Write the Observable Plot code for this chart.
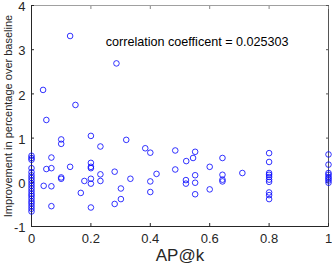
<!DOCTYPE html>
<html><head><meta charset="utf-8">
<script src="https://cdn.jsdelivr.net/npm/d3@7"></script>
<script src="https://cdn.jsdelivr.net/npm/@observablehq/plot@0.6"></script>
<style>body{margin:0;background:#fff} svg{display:block}</style>
</head><body><div id="chart"></div>
<script>
const apk = [
  0,0,0,0,0,0,0,0,0,0,0,0,0,0,0,0,0,0,0,0,
  0.039,0.130,0.148,0.050,0.286,0.10,0.10,0.20,0.232,0.067,
  0.050,0.067,0.130,0.10,0.10,0.20,0.20,0.20,0.232,0.28,
  0.178,0.20,0.20,0.232,0.041,0.067,0.166,0.067,0.20,0.28,
  0.319,0.383,0.40,0.484,0.551,0.521,0.544,0.643,0.60,0.484,
  0.421,0.333,0.40,0.52,0.52,0.551,0.551,0.551,0.643,0.643,
  0.643,0.301,0.301,0.40,0.60,0.71,
  0.8,0.8,0.8,0.8,0.8,0.8,0.8,0.8,0.8,0.8,
  1,1,1,1,1,1,1,1
];
const improvement = [
  0.60,0.55,0.51,0.32,0.23,0.16,0.10,0.04,-0.02,-0.08,-0.14,-0.20,-0.26,-0.31,-0.37,-0.43,-0.48,-0.54,-0.60,-0.66,
  2.09,3.31,1.75,1.41,2.69,0.97,0.87,1.05,0.81,0.56,
  0.30,0.32,0.35,0.11,0.08,0.44,0.35,0.32,0.18,0.24,
  0.03,0.08,-0.03,0.03,-0.08,-0.09,-0.24,-0.54,-0.57,-0.49,
  0.96,0.77,0.67,0.72,0.69,0.48,0.55,0.55,0.35,0.29,
  0.19,0.08,0.02,0.05,-0.03,0.16,-0.01,-0.27,0.17,0.06,
  0.02,-0.14,-0.38,-0.22,-0.16,0.21,
  0.66,0.46,0.21,0.17,0.12,0.06,0.01,-0.23,-0.29,-0.38,
  0.63,0.40,0.21,0.17,0.12,0.08,0.04,-0.01
];
const xTicks = [0, 0.2, 0.4, 0.6, 0.8, 1];
const xTickLabels = ["0", "0.2", "0.4", "0.6", "0.8", "1"];
const yTicks = [-1, 0, 1, 2, 3, 4];
const yTickLabels = ["-1", "0", "1", "2", "3", "4"];
const annotation = "correlation coefficent = 0.025303";
const annotationPos = {x: 0.25, y: 3.17};
const xLabel = "AP@k";
const yLabel = "Improvement in percentage over baseline";

const points = apk.map((x, i) => ({x, y: improvement[i]}));
const axisColor = "#262626";

const chart = Plot.plot({
  width: 332,
  height: 271,
  marginLeft: 31,
  marginRight: 4,
  marginTop: 5,
  marginBottom: 45,
  x: {domain: [0, 1]},
  y: {domain: [-1, 4]},
  style: {fontFamily: "'Liberation Sans', Arial, sans-serif", fontSize: "13px", color: axisColor, background: "#fff"},
  marks: [
    Plot.ruleY([4], {stroke: "#a0a0a0"}),
    Plot.ruleX([1], {stroke: "#555"}),
    Plot.axisX(xTicks, {anchor: "bottom", tickSize: -3, tickPadding: 10, tickFormat: d => xTickLabels[xTicks.indexOf(d)], label: null, fontSize: 13, stroke: axisColor}),
    Plot.axisX(xTicks, {anchor: "top", tickSize: -3, tickFormat: () => "", label: null, stroke: "#888"}),
    Plot.axisY(yTicks, {anchor: "left", tickSize: -3, tickFormat: () => "", label: null, stroke: axisColor}),
    Plot.axisY(yTicks, {anchor: "left", tickSize: 0, tickPadding: 6, dy: 1.5, tickFormat: d => yTickLabels[yTicks.indexOf(d)], label: null, fontSize: 13}),
    Plot.axisY(yTicks, {anchor: "right", tickSize: -3, tickFormat: () => "", label: null, stroke: "#555"}),
    Plot.ruleX([0], {stroke: axisColor}),
    Plot.ruleY([-1], {stroke: axisColor}),
    Plot.dot(points, {x: "x", y: "y", r: 2.8, stroke: "#0000ff", strokeWidth: 0.8, fill: "none"}),
    Plot.text([annotation], {x: annotationPos.x, y: annotationPos.y, text: d => d, textAnchor: "start", fontSize: 12.6, fill: "#000"}),
    Plot.text([xLabel], {frameAnchor: "bottom", dy: 34, text: d => d, fontSize: 17, fill: axisColor}),
    Plot.text([yLabel], {frameAnchor: "left", dx: -23, rotate: -90, textAnchor: "middle", text: d => d, fontSize: 11, fill: axisColor})
  ]
});
document.getElementById("chart").appendChild(chart);
</script>
</body></html>
